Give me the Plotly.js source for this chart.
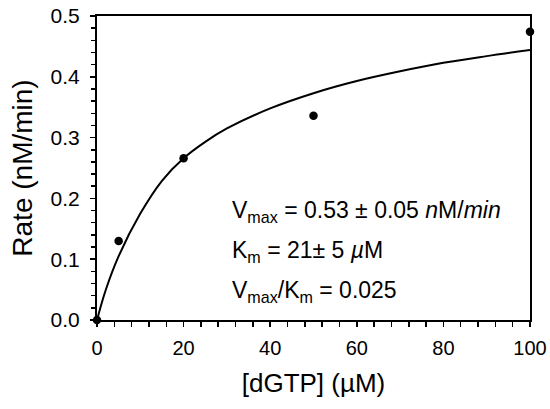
<!DOCTYPE html>
<html>
<head>
<meta charset="utf-8">
<script src="https://cdn.plot.ly/plotly-3.0.1.min.js"></script>
<style>html,body{margin:0;padding:0;background:#fff;}#chart{width:550px;height:409px;}</style>
</head>
<body>
<div id="chart"></div>
<script>
// Measured data points
const dgtp = [0, 5, 20, 50, 100];
const rate = [0, 0.130, 0.266, 0.336, 0.474];

// Fitted curve
const fitX = [0, 2, 5, 10, 15, 20, 25, 30, 40, 50, 60, 70, 80, 90, 100];
const fitY = [0, 0.049, 0.105, 0.175, 0.229, 0.266, 0.293, 0.315, 0.348, 0.373, 0.393, 0.409, 0.423, 0.434, 0.444];

const xTickVals = [0, 20, 40, 60, 80, 100];
const yTickVals = [0.0, 0.1, 0.2, 0.3, 0.4, 0.5];
const yTickText = ['0.0', '0.1', '0.2', '0.3', '0.4', '0.5'];

const annText = [
  'V<sub>max</sub> = 0.53 ± 0.05 <i>n</i>M/<i>min</i>',
  'K<sub>m</sub> = 21± 5 <i>µ</i>M',
  'V<sub>max</sub>/K<sub>m</sub> = 0.025'
];
const annY = [0.178, 0.112, 0.047];

const FONT = 'Liberation Sans, Arial, sans-serif';

const traces = [
  {x: fitX, y: fitY, mode: 'lines', line: {color: '#000', width: 2, shape: 'spline'}, hoverinfo: 'skip', cliponaxis: false},
  {x: dgtp, y: rate, mode: 'markers', marker: {color: '#000', size: 8.5}, cliponaxis: false}
];

const layout = {
  width: 550, height: 409,
  margin: {l: 97, r: 20, t: 16, b: 89},
  paper_bgcolor: '#fff', plot_bgcolor: '#fff',
  showlegend: false,
  font: {family: FONT, color: '#000', size: 20},
  xaxis: {
    range: [0, 100], tickvals: xTickVals, ticks: 'outside', ticklen: 5, tickwidth: 1.5, tickcolor: '#000',
    minor: {dtick: 4, ticks: 'outside', ticklen: 5, tickwidth: 1.5, tickcolor: '#000'},
    showline: true, linecolor: '#000', linewidth: 2, mirror: true, showgrid: false, zeroline: false,
    tickfont: {size: 20, family: FONT}, ticklabelstandoff: 4,
    title: {text: '[dGTP] (µM)', font: {size: 26, family: FONT}, standoff: 16}
  },
  yaxis: {
    range: [0, 0.5], tickvals: yTickVals, ticktext: yTickText, ticks: 'outside', ticklen: 5, tickwidth: 1.5, tickcolor: '#000',
    minor: {dtick: 0.02, ticks: 'outside', ticklen: 4, tickwidth: 1.5, tickcolor: '#000'},
    showline: true, linecolor: '#000', linewidth: 2, mirror: true, showgrid: false, zeroline: false,
    tickfont: {size: 21, family: FONT}, ticklabelstandoff: 6,
    title: {text: 'Rate (nM/min)', font: {size: 28, family: FONT}, standoff: 10}
  },
  annotations: annText.map((t, i) => ({
    x: 30.8, y: annY[i], xref: 'x', yref: 'y', text: t, showarrow: false,
    xanchor: 'left', yanchor: 'middle', font: {size: 23, family: FONT, color: '#000'}
  }))
};

Plotly.newPlot('chart', traces, layout, {staticPlot: true, displayModeBar: false});
</script>
</body>
</html>
